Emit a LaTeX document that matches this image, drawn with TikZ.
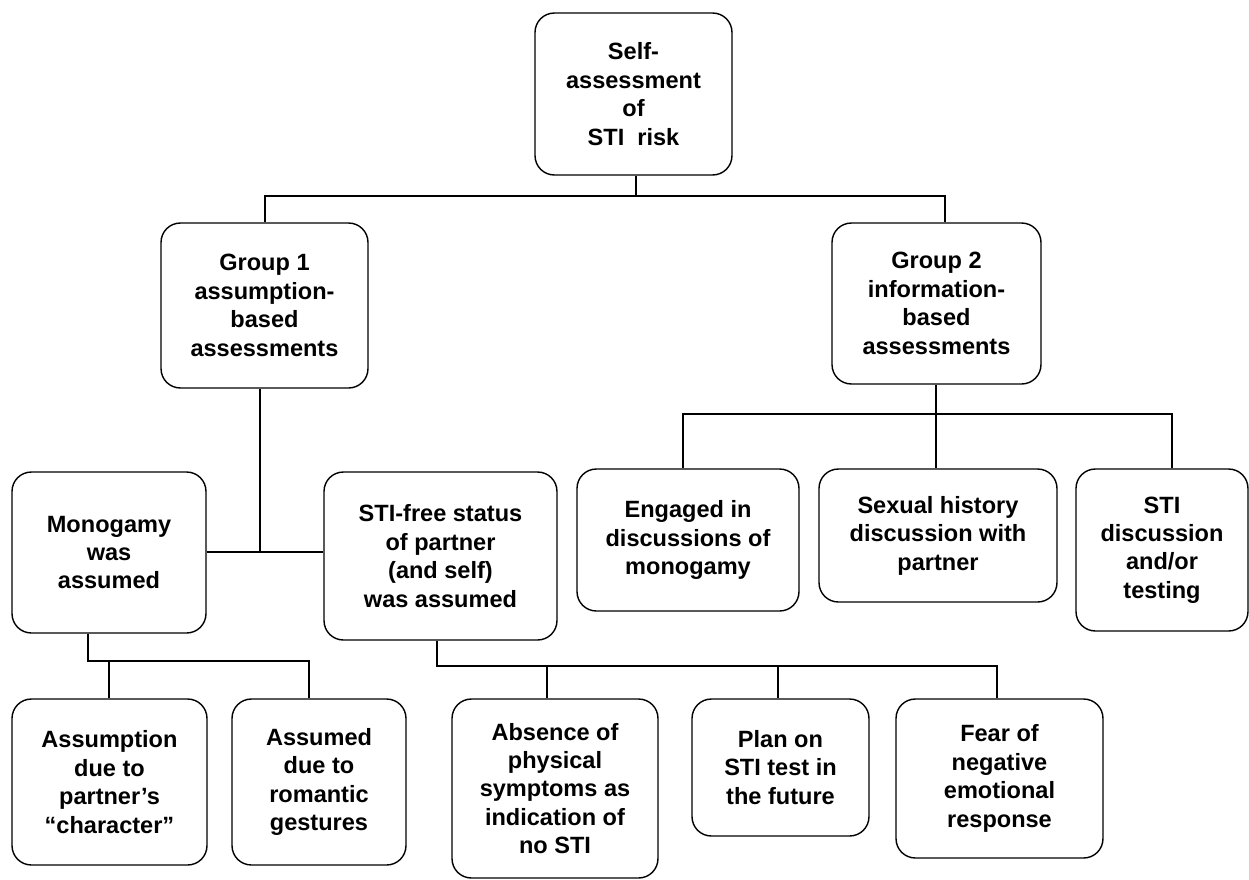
\documentclass[tikz,border=0pt]{standalone}
\usepackage{fontspec}
\setmainfont{Liberation Sans}
\usepackage{tikz}

\begin{document}
\begin{tikzpicture}[
    x=0.02cm, y=-0.02cm,
    every node/.style={font=\bfseries\fontsize{13.4}{16.2}\selectfont},
    box/.style={
        draw,
        rectangle,
        rounded corners=11pt,
        line width=0.8pt,
        inner sep=0pt,
        align=center
    },
    link/.style={line width=1.3pt}
]
    \useasboundingbox (0,0) rectangle (1249,880);

    % === TOP ===
    \node[box, minimum width=3.94cm, minimum height=3.24cm] (top) at (633.5,94) {Self-\\assessment\\of\\STI\ \ risk};

    % === GROUPS ===
    \node[box, minimum width=4.14cm, minimum height=3.30cm] (g1) at (264.5,305.5) {Group 1\\assumption-\\based\\assessments};
    \node[box, minimum width=4.18cm, minimum height=3.22cm] (g2) at (936.5,303.5) {Group 2\\information-\\based\\assessments};

    % Group 1 children
    \node[box, minimum width=3.88cm, minimum height=3.22cm] (mono) at (109,552.5) {Monogamy\\was\\assumed};
    \node[box, minimum width=4.66cm, minimum height=3.36cm] (stifree) at (440.5,556) {STI-free status\\of partner\\(and self)\\was assumed};

    % Group 2 children
    \node[box, minimum width=4.44cm, minimum height=2.84cm] (engaged) at (688,540) {Engaged in\\discussions of\\monogamy};
    \node[box, minimum width=4.76cm, minimum height=2.66cm] (sexual) at (938,535.5) {Sexual history\\discussion with\\partner};
    \node[box, minimum width=3.44cm, minimum height=3.24cm] (stitest) at (1162,550) {STI\\discussion\\and/or\\testing};

    % === BOTTOM ROW ===
    \node[box, minimum width=3.90cm, minimum height=3.32cm] (assumption) at (109.5,782) {Assumption\\due to\\partner’s\\“character”};
    \node[box, minimum width=3.48cm, minimum height=3.32cm] (assumed) at (319,782) {Assumed\\due to\\romantic\\gestures};
    \node[box, minimum width=4.12cm, minimum height=3.58cm] (absence) at (555,788.5) {Absence of\\physical\\symptoms as\\indication of\\no STI};
    \node[box, minimum width=3.54cm, minimum height=2.74cm] (plan) at (780.5,767.5) {Plan on\\STI test in\\the future};
    \node[box, minimum width=4.14cm, minimum height=3.18cm] (fear) at (999.5,778.5) {Fear of\\negative\\emotional\\response};

    % === CONNECTORS ===
    \coordinate (bar1) at (636,196);
    \coordinate (bar1l) at (265,196);
    \coordinate (bar1r) at (945,196);
    \draw[link] (top.south -| bar1) -- (bar1);
    \draw[link] (g1.north -| bar1l) -- (bar1l) -- (bar1r) -- (g2.north -| bar1r);

    \coordinate (bar2) at (260,552);
    \draw[link] (g1.south -| bar2) -- (bar2);
    \draw[link] (mono.east |- bar2) -- (stifree.west |- bar2);

    \coordinate (bar3l) at (683,414);
    \coordinate (bar3m) at (936,414);
    \coordinate (bar3r) at (1172,414);
    \draw[link] (g2.south -| bar3m) -- (bar3m) -- (sexual.north -| bar3m);
    \draw[link] (engaged.north -| bar3l) -- (bar3l) -- (bar3r) -- (stitest.north -| bar3r);

    \coordinate (bar4) at (88,661);
    \coordinate (bar4l) at (109,661);
    \coordinate (bar4r) at (309,661);
    \draw[link] (mono.south -| bar4) -- (bar4) -- (bar4r) -- (assumed.north -| bar4r);
    \draw[link] (bar4l) -- (assumption.north -| bar4l);

    \coordinate (bar5) at (437,666);
    \coordinate (bar5a) at (547,666);
    \coordinate (bar5b) at (778,666);
    \coordinate (bar5c) at (997,666);
    \draw[link] (stifree.south -| bar5) -- (bar5) -- (bar5c) -- (fear.north -| bar5c);
    \draw[link] (bar5a) -- (absence.north -| bar5a);
    \draw[link] (bar5b) -- (plan.north -| bar5b);
\end{tikzpicture}
\end{document}
